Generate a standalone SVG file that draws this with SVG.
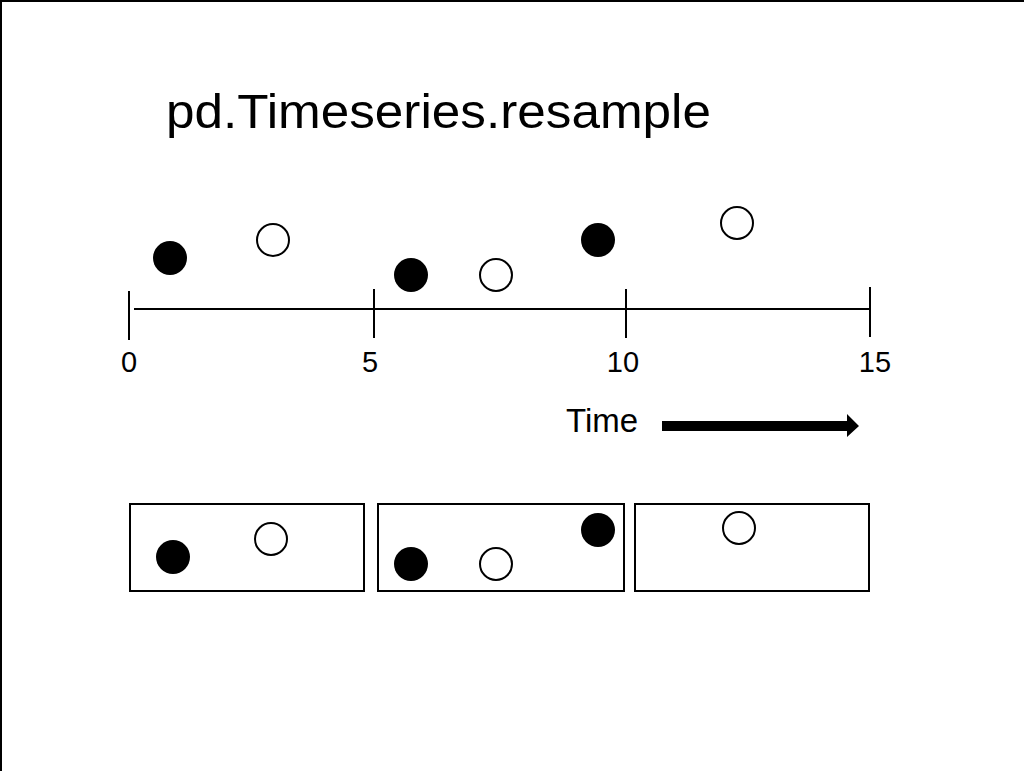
<svg xmlns="http://www.w3.org/2000/svg" width="1024" height="771" viewBox="0 0 1024 771">
<style>
  text { font-family: "Liberation Sans", Arial, sans-serif; fill: #000; }
  .tick { stroke: #000; stroke-width: 2; }
  .axis { stroke: #000; stroke-width: 2; }
  .full { fill: #000; }
  .hollow { fill: #fff; stroke: #000; stroke-width: 2; }
  .bin { fill: #fff; stroke: #000; stroke-width: 2; }
  .lbl { font-size: 29px; text-anchor: middle; }
</style>
<rect width="1024" height="771" fill="#fff"/>
<path d="M1,771 V1 H1024" fill="none" stroke="#000" stroke-width="2"/>
<text id="title" x="166" y="128" font-size="48" textLength="545" lengthAdjust="spacingAndGlyphs">pd.Timeseries.resample</text>
<g id="axis">
  <line class="axis" x1="134" y1="309" x2="870" y2="309"/>
  <line class="tick" x1="129" y1="291" x2="129" y2="340"/>
  <line class="tick" x1="374" y1="289" x2="374" y2="338"/>
  <line class="tick" x1="626" y1="289" x2="626" y2="338"/>
  <line class="tick" x1="870" y1="287" x2="870" y2="337"/>
  <text class="lbl" x="129" y="372">0</text>
  <text class="lbl" x="370" y="372">5</text>
  <text class="lbl" x="623" y="372">10</text>
  <text class="lbl" x="875" y="372">15</text>
</g>
<g id="points">
  <circle class="full" cx="170" cy="258" r="17"/>
  <circle class="hollow" cx="273" cy="240" r="16"/>
  <circle class="full" cx="411" cy="275" r="17"/>
  <circle class="hollow" cx="496" cy="275" r="16"/>
  <circle class="full" cx="598" cy="240" r="17"/>
  <circle class="hollow" cx="737" cy="223" r="16"/>
</g>
<g id="time">
  <text x="566" y="432" font-size="33">Time</text>
  <path d="M662,421 H847 V414 L859,426 L847,437 V431 H662 Z" fill="#000"/>
</g>
<g id="bin1">
  <rect class="bin" x="130" y="504" width="234" height="87"/>
  <circle class="full" cx="173" cy="557" r="17"/>
  <circle class="hollow" cx="271" cy="539" r="16"/>
</g>
<g id="bin2">
  <rect class="bin" x="378" y="504" width="246" height="87"/>
  <circle class="full" cx="411" cy="564" r="17"/>
  <circle class="hollow" cx="496" cy="564" r="16"/>
  <circle class="full" cx="598" cy="530" r="17"/>
</g>
<g id="bin3">
  <rect class="bin" x="635" y="504" width="234" height="87"/>
  <circle class="hollow" cx="739" cy="528" r="16"/>
</g>
</svg>
